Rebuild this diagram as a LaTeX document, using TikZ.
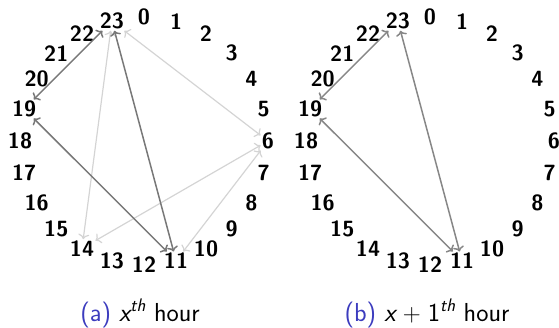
\documentclass[tikz,border=0pt]{standalone}
\usepackage{fontspec}
\usetikzlibrary{arrows.meta}
\definecolor{capblue}{RGB}{60,60,190}
\definecolor{darkarr}{RGB}{120,120,120}
\definecolor{rightarr}{RGB}{135,135,135}
\definecolor{lightarr}{RGB}{212,212,212}
\begin{document}
\begin{tikzpicture}[x=1pt,y=-1pt,
  hr/.style={font=\fontsize{22}{22}\selectfont\sffamily\bfseries, inner sep=1.2pt},
  dk/.style={{Computer Modern Rightarrow[length=5pt,width=11pt]}-{Computer Modern Rightarrow[length=5pt,width=11pt]}, draw=darkarr, line width=1.5pt},
  dkr/.style={dk, draw=rightarr},
  lt/.style={{Computer Modern Rightarrow[length=5pt,width=11pt]}-{Computer Modern Rightarrow[length=5pt,width=11pt]}, draw=lightarr, line width=1.2pt},
  captext/.style={font=\fontsize{26}{26}\selectfont\sffamily, anchor=base}]
\useasboundingbox (0,0) rectangle (559,327);
\foreach \k in {0,...,23} {
  \node[hr] (a\k) at ({144+124*cos(90-15*\k)},{141-124*sin(90-15*\k)}) {\k};
  \node[hr] (b\k) at ({430+124*cos(90-15*\k)},{141-124*sin(90-15*\k)}) {\k};
}
% (a) light arrows
\draw[lt] (a23) -- (a14);
\draw[lt] (a23) -- (a6);
\draw[lt] (a6) -- (a14);
\draw[lt] (a6) -- (a11);
% (a) dark arrows
\draw[dk] (a23) -- (a19);
\draw[dk] (a19) -- (a11);
\draw[dk] (a23) -- (a11);
% (b) arrows
\draw[dkr] (b23) -- (b19);
\draw[dkr] (b19) -- (b11);
\draw[dkr] (b23) -- (b11);
% captions
\node[captext] (capa) at (140,321) {\textcolor{capblue}{(a)} {\itshape x}\textsuperscript{\itshape th} hour};
\node[captext] (capb) at (427,321) {\textcolor{capblue}{(b)} {\itshape x}\;$+$\;1\textsuperscript{\itshape th} hour};
\end{tikzpicture}
\end{document}
